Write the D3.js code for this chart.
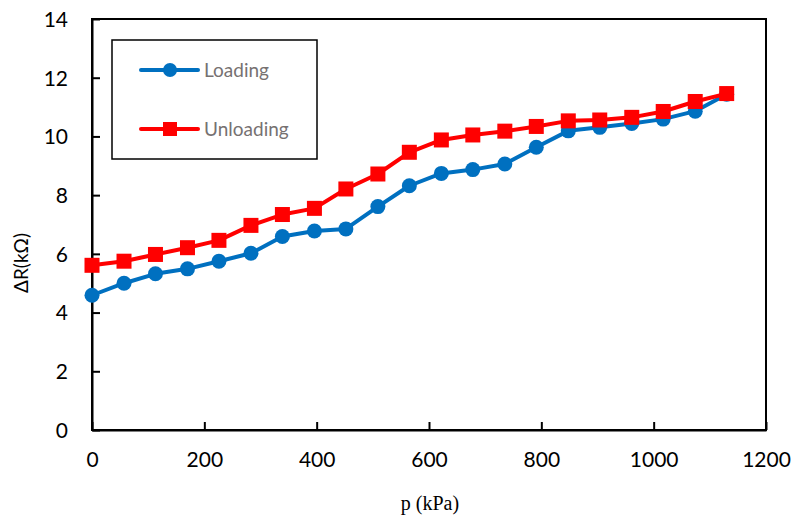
<!DOCTYPE html>
<html><head><meta charset="utf-8">
<script src="https://cdn.jsdelivr.net/npm/d3@7"></script>
<style>
html,body{margin:0;padding:0;background:#fff;}
svg{display:block;}
</style></head>
<body>
<svg id="chart" width="798" height="524"></svg>
<script>
const pressure = [0,57,113,170,226,283,339,396,452,509,565,622,678,735,791,848,904,961,1017,1074,1130];
const loading = [4.59,5.00,5.32,5.49,5.75,6.02,6.59,6.78,6.85,7.61,8.32,8.74,8.87,9.06,9.63,10.19,10.31,10.44,10.59,10.86,11.44];
const unloading = [5.61,5.75,5.98,6.21,6.46,6.97,7.34,7.55,8.21,8.72,9.46,9.88,10.05,10.18,10.34,10.53,10.56,10.65,10.85,11.19,11.46];
const xTicks = [0,200,400,600,800,1000,1200];
const yTicks = [0,2,4,6,8,10,12,14];
const seriesNames = ["Loading","Unloading"];

const svg = d3.select("#chart");
const L = 92, R = 766, T = 19, B = 430;
const x = d3.scaleLinear().domain([0,1200]).range([L,R]);
const y = d3.scaleLinear().domain([0,14]).range([B,T]);
const sans = "Lato, 'Open Sans', sans-serif";

// frame
svg.append("rect").attr("x",L).attr("y",T).attr("width",R-L).attr("height",B-T)
  .attr("fill","none").attr("stroke","#000").attr("stroke-width",2);

// axes
const xAxis = d3.axisBottom(x).tickValues(xTicks).tickFormat(d3.format("d")).tickSizeInner(-8).tickSizeOuter(0).tickPadding(22);
const gx = svg.append("g").attr("transform",`translate(0,${B})`).call(xAxis);
const yAxis = d3.axisLeft(y).tickValues(yTicks).tickFormat(d3.format("d")).tickSizeInner(-8).tickSizeOuter(0).tickPadding(24);
const gy = svg.append("g").attr("transform",`translate(${L},0)`).call(yAxis);
[gx,gy].forEach(g=>{
  g.select(".domain").attr("stroke","#000").attr("stroke-width",2);
  g.selectAll(".tick line").attr("stroke","#000").attr("stroke-width",2);
  g.selectAll(".tick text").attr("font-family",sans).attr("font-size",21).attr("fill","#000");
});
gx.selectAll(".tick text").attr("dy","0.71em");
gy.selectAll(".tick text").attr("dy","0.35em");

// axis titles
svg.append("text").attr("x",430).attr("y",510).attr("text-anchor","middle")
  .attr("font-family","'Liberation Serif','DejaVu Serif',serif").attr("font-size",20).text("p (kPa)");
svg.append("text").attr("transform","translate(28,263) rotate(-90)").attr("text-anchor","middle")
  .attr("font-family",sans).attr("font-size",19).text("ΔR(kΩ)");

const colors = ["#0070C0","#FF0000"];
const line = d3.line().x((d,i)=>x(pressure[i])).y(d=>y(d));

const data = [loading, unloading];
data.forEach((vals,si)=>{
  svg.append("path").datum(vals).attr("d",line).attr("fill","none")
    .attr("stroke",colors[si]).attr("stroke-width",4).attr("stroke-linejoin","round");
  if(si===0){
    svg.selectAll(null).data(vals).enter().append("circle")
      .attr("cx",(d,i)=>x(pressure[i])).attr("cy",d=>y(d)).attr("r",7.5).attr("fill",colors[si]);
  } else {
    svg.selectAll(null).data(vals).enter().append("rect")
      .attr("x",(d,i)=>x(pressure[i])-7.5).attr("y",d=>y(d)-7.5).attr("width",15).attr("height",15).attr("fill",colors[si]);
  }
});

// legend
svg.append("rect").attr("x",112).attr("y",40).attr("width",205).attr("height",119)
  .attr("fill","#fff").attr("stroke","#000").attr("stroke-width",1.5);
const legY = [70,129];
seriesNames.forEach((name,si)=>{
  svg.append("line").attr("x1",141).attr("x2",198).attr("y1",legY[si]).attr("y2",legY[si])
    .attr("stroke",colors[si]).attr("stroke-width",4).attr("stroke-linecap","round");
  if(si===0) svg.append("circle").attr("cx",170).attr("cy",legY[si]).attr("r",7).attr("fill",colors[si]);
  else svg.append("rect").attr("x",163).attr("y",legY[si]-7).attr("width",14).attr("height",14).attr("fill",colors[si]);
  svg.append("text").attr("x",204).attr("y",legY[si]).attr("dy","0.35em")
    .attr("font-family",sans).attr("font-size",19).attr("fill","#767171").text(name);
});
</script>
</body></html>
